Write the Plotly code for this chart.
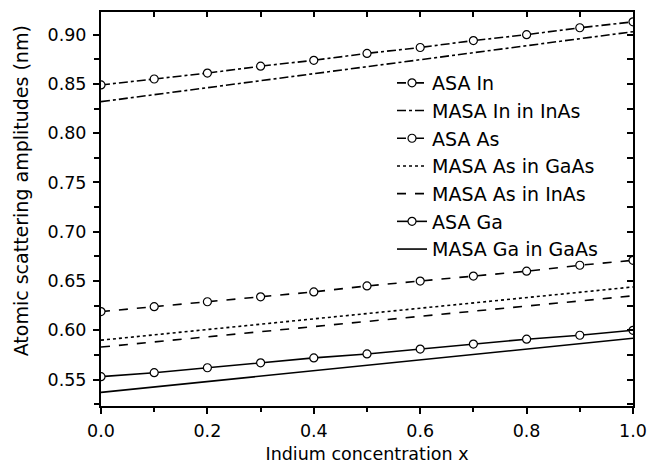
import plotly.graph_objects as go

# x values (Indium concentration)
x_asa = [0.0, 0.1, 0.2, 0.3, 0.4, 0.5, 0.6, 0.7, 0.8, 0.9, 1.0]
x_masa = [0.0, 1.0]

asa_in = [0.849, 0.855, 0.861, 0.868, 0.874, 0.881, 0.887, 0.894, 0.900, 0.907, 0.913]
masa_in_inas = [0.832, 0.903]
asa_as = [0.619, 0.624, 0.629, 0.634, 0.639, 0.645, 0.650, 0.655, 0.660, 0.666, 0.671]
masa_as_gaas = [0.590, 0.644]
masa_as_inas = [0.583, 0.635]
asa_ga = [0.553, 0.557, 0.562, 0.567, 0.572, 0.576, 0.581, 0.586, 0.591, 0.595, 0.600]
masa_ga_gaas = [0.537, 0.592]

names = ["ASA In", "MASA In in InAs", "ASA As", "MASA As in GaAs",
         "MASA As in InAs", "ASA Ga", "MASA Ga in GaAs"]

x_title = "Indium concentration x"
y_title = "Atomic scattering amplitudes (nm)"

x_range = [0.0, 1.0]
y_range = [0.5232, 0.923]

FONT = "DejaVu Sans"
marker = dict(symbol="circle", size=8, color="white", line=dict(color="black", width=1.2))

series = [
    (x_asa, asa_in, "dashdot", True),
    (x_masa, masa_in_inas, "dashdot", False),
    (x_asa, asa_as, "dash", True),
    (x_masa, masa_as_gaas, "dot", False),
    (x_masa, masa_as_inas, "dash", False),
    (x_asa, asa_ga, "solid", True),
    (x_masa, masa_ga_gaas, "solid", False),
]

fig = go.Figure()
for i, (xs, ys, dash, mk) in enumerate(series):
    fig.add_trace(go.Scatter(
        x=xs, y=ys, name=names[i], legendgroup=f"g{i}",
        mode="lines+markers" if mk else "lines",
        line=dict(color="black", width=1.6, dash=dash),
        marker=marker if mk else None,
    ))

# invisible trace to carry the mirrored (inside-tick) top/right axes
fig.add_trace(go.Scatter(x=[0.5], y=[0.7], xaxis="x2", yaxis="y2", mode="markers",
                         marker=dict(opacity=0), showlegend=False, hoverinfo="skip"))

axis_common = dict(showline=True, linewidth=2, linecolor="black", showgrid=False,
                   zeroline=False, tickcolor="black", tickwidth=1.5, automargin=False,
                   tickfont=dict(family=FONT, size=17.5, color="black"))

fig.update_layout(
    width=649, height=469,
    margin=dict(l=101, r=16, t=12, b=63),
    paper_bgcolor="white", plot_bgcolor="white",
    font=dict(family=FONT, color="black"),
    xaxis=dict(range=x_range, tick0=0, dtick=0.2, tickformat=".1f",
               ticks="outside", ticklen=6, ticklabelstandoff=2,
               minor=dict(dtick=0.1, ticks="outside", ticklen=4, tickwidth=1.5,
                          tickcolor="black", showgrid=False),
               title=dict(text=x_title,
                          font=dict(family=FONT, size=17.5, color="black"), standoff=8),
               **axis_common),
    yaxis=dict(range=y_range, tick0=0.55, dtick=0.05, tickformat=".2f",
               ticks="outside", ticklen=6, ticklabelstandoff=3,
               minor=dict(dtick=0.025, ticks="outside", ticklen=5, tickwidth=1.5,
                          tickcolor="black", showgrid=False),
               **axis_common),
    xaxis2=dict(overlaying="x", side="top", anchor="y", range=x_range,
                tick0=0, dtick=0.1, ticks="inside", ticklen=5, showticklabels=False,
                **axis_common),
    yaxis2=dict(overlaying="y", side="right", anchor="x", range=y_range,
                tick0=0.55, dtick=0.025, ticks="inside", ticklen=6, showticklabels=False,
                **axis_common),
    legend=dict(x=0.547, y=0.868, xanchor="left", yanchor="top",
                bgcolor="rgba(0,0,0,0)", borderwidth=0,
                font=dict(family=FONT, size=19, color="black"),
                tracegroupgap=0, traceorder="normal"),
    showlegend=True,
    annotations=[dict(text=y_title, textangle=-90, xref="paper", yref="paper",
                      x=-0.1497, y=0.5458, xanchor="center", yanchor="middle",
                      showarrow=False, font=dict(family=FONT, size=19, color="black"))],
)

fig.write_html("out.html")
